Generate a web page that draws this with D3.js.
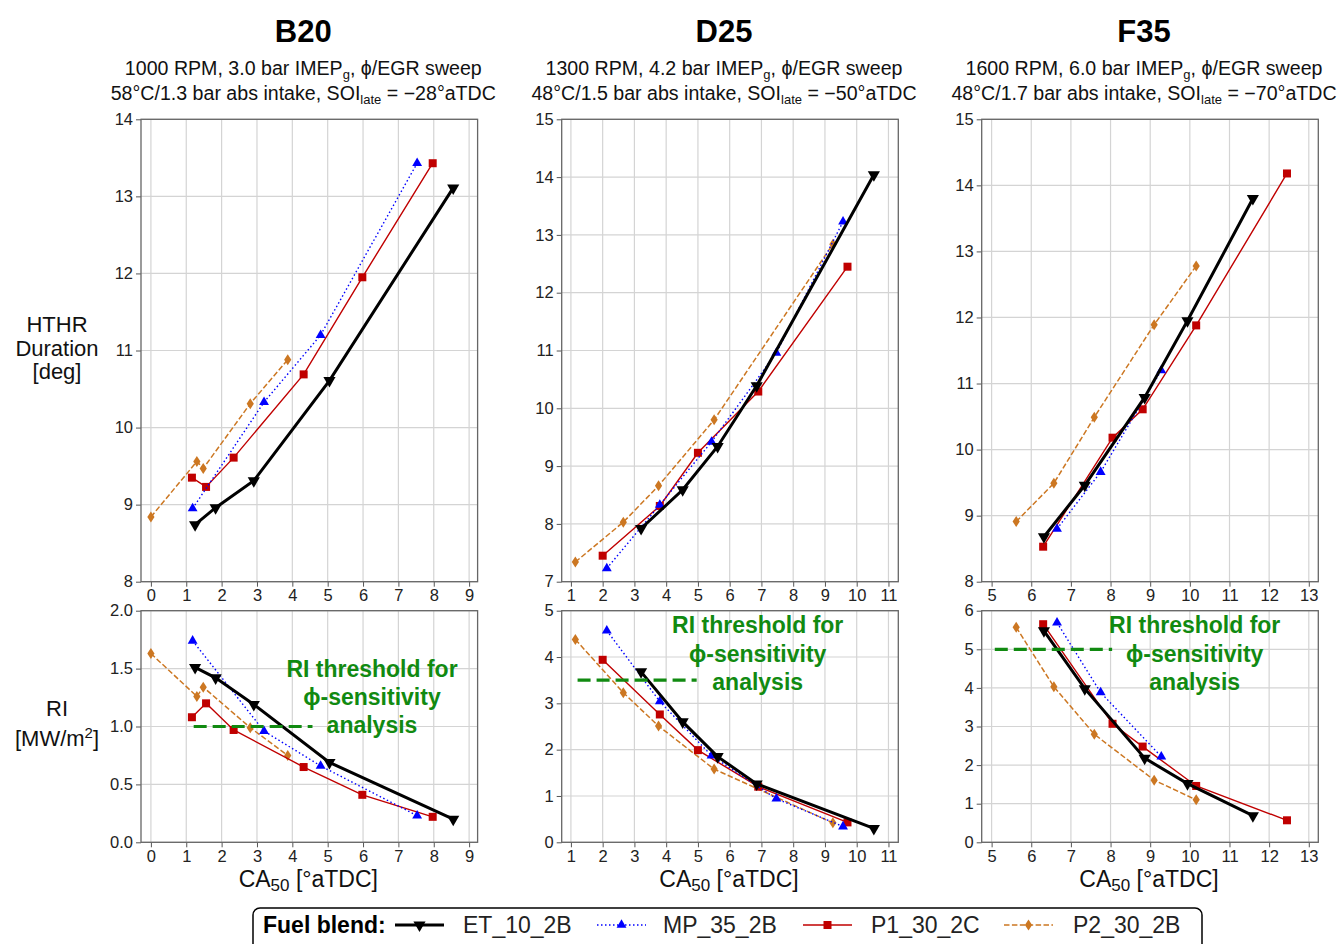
<!DOCTYPE html>
<html>
<head>
<meta charset="utf-8">
<script src="https://cdn.jsdelivr.net/npm/d3@7"></script>
<style>
  body { margin: 0; background: #fff; }
  text { font-family: "Liberation Sans", Arial, sans-serif; }
</style>
</head>
<body>
<svg id="chart" width="1344" height="944"></svg>
<script>
// ---- data ----
const fuels = ['ET_10_2B', 'MP_35_2B', 'P1_30_2C', 'P2_30_2B'];
const cases = ['B20', 'D25', 'F35'];
const subLine1 = [
  ['1000 RPM, 3.0 bar IMEP', 'g', ', ϕ/EGR sweep'],
  ['1300 RPM, 4.2 bar IMEP', 'g', ', ϕ/EGR sweep'],
  ['1600 RPM, 6.0 bar IMEP', 'g', ', ϕ/EGR sweep']
];
const subLine2 = [
  ['58°C/1.3 bar abs intake, SOI', 'late', ' = −28°aTDC'],
  ['48°C/1.5 bar abs intake, SOI', 'late', ' = −50°aTDC'],
  ['48°C/1.7 bar abs intake, SOI', 'late', ' = −70°aTDC']
];

// CA50 [°aTDC], one array per fuel (ET, MP, P1, P2)
const b20CA50 = [
  [1.25, 1.83, 2.91, 5.05, 8.55],
  [1.18, 3.20, 4.80, 7.53],
  [1.16, 1.56, 2.34, 4.32, 5.98, 7.97],
  [0.0, 1.30, 1.48, 2.81, 3.87]
];
const b20HTHR = [
  [8.74, 8.96, 9.31, 10.61, 13.11],
  [8.95, 10.33, 11.20, 13.43],
  [9.35, 9.23, 9.61, 10.69, 11.95, 13.43],
  [8.84, 9.56, 9.47, 10.31, 10.88]
];
const b20RI = [
  [1.51, 1.42, 1.19, 0.69, 0.20],
  [1.74, 0.96, 0.66, 0.23],
  [1.08, 1.20, 0.97, 0.65, 0.41, 0.22],
  [1.63, 1.26, 1.34, 0.99, 0.75]
];

const d25CA50 = [
  [3.21, 4.52, 5.62, 6.85, 10.54],
  [2.13, 3.80, 5.43, 7.47, 9.57],
  [2.00, 3.80, 5.00, 6.90, 9.71],
  [1.14, 2.65, 3.76, 5.51, 9.25]
];
const d25HTHR = [
  [7.92, 8.59, 9.34, 10.39, 14.04],
  [7.23, 8.33, 9.42, 10.96, 13.23],
  [7.45, 8.31, 9.23, 10.29, 12.45],
  [7.34, 8.03, 8.66, 9.80, 12.84]
];
const d25RI = [
  [3.68, 2.60, 1.85, 1.26, 0.30],
  [4.57, 3.04, 1.87, 0.94, 0.34],
  [3.94, 2.76, 1.99, 1.20, 0.43],
  [4.38, 3.23, 2.51, 1.58, 0.42]
];

const f35CA50 = [
  [6.32, 7.35, 8.86, 9.94, 11.59],
  [6.65, 7.75, 9.28],
  [6.30, 8.05, 8.81, 10.16, 12.45],
  [5.62, 6.57, 7.59, 9.10, 10.16]
];
const f35HTHR = [
  [8.68, 9.46, 10.79, 11.95, 13.80],
  [8.80, 9.66, 11.20],
  [8.53, 10.18, 10.61, 11.88, 14.18],
  [8.91, 9.49, 10.49, 11.89, 12.78]
];
const f35RI = [
  [5.48, 3.98, 2.18, 1.52, 0.69],
  [5.69, 3.88, 2.22],
  [5.65, 3.07, 2.48, 1.46, 0.57],
  [5.57, 4.03, 2.80, 1.61, 1.10]
];

// RI threshold line: level and CA50 extent of the dashed segment
const riThreshold = [1.0, 3.5, 5.0];
const thresholdFrom = [1.21, 1.21, 5.08];
const thresholdTo = [4.57, 4.96, 8.04];

// axis ticks
const xTicks = [d3.range(0, 10), d3.range(1, 12), d3.range(5, 14)];
const hthrTicks = [d3.range(8, 15), d3.range(7, 16), d3.range(8, 16)];
const riTicks = [[0, 0.5, 1.0, 1.5, 2.0], d3.range(0, 6), d3.range(0, 7)];

// ---- layout ----
const svg = d3.select('#chart');
const colLeft = [141, 561.7, 981.7];
const colW = 336.6;
const topY = 119.3, topH = 462.4;
const botY = 610.7, botH = 231.6;
const xDomains = [[-0.28, 9.24], [0.71, 11.31], [4.75, 13.24]];
const hthrDomains = [[8, 14], [7, 15], [8, 15]];
const riDomains = [[0, 2], [0, 5], [0, 6]];
const textShift = [231, 196, 213];
const textBase = [[677, 705, 733], [633, 662, 690], [633, 662, 690]];

const colors = ['#000000', '#0000ff', '#c00000', '#cc7722'];
const widths = [3, 1.4, 1.4, 1.5];
const dashes = [null, '1.5,2.5', null, '5.5,2.4'];
const green = '#118a11';

const caData = [b20CA50, d25CA50, f35CA50];
const hthrData = [b20HTHR, d25HTHR, f35HTHR];
const riData = [b20RI, d25RI, f35RI];

function marker(sel, i) {
  const c = colors[i];
  if (i === 0) {
    sel.append('path').attr('d', d3.symbol(d3.symbolTriangle, 64)())
      .attr('transform', 'rotate(180)').attr('fill', c);
  } else if (i === 1) {
    sel.append('path').attr('d', d3.symbol(d3.symbolTriangle, 42)()).attr('fill', c);
  } else if (i === 2) {
    sel.append('rect').attr('x', -4).attr('y', -4).attr('width', 8).attr('height', 8).attr('fill', c);
  } else {
    sel.append('path').attr('d', 'M0,-5.5L3.6,0L0,5.5L-3.6,0Z').attr('fill', c);
  }
}

function panel(k, y0, h, yDomain, yTicks, ys, yFmt) {
  const g = svg.append('g').attr('transform', `translate(${colLeft[k]},${y0})`);
  const x = d3.scaleLinear().domain(xDomains[k]).range([0, colW]);
  const y = d3.scaleLinear().domain(yDomain).range([h, 0]);

  // grid
  g.append('g').selectAll('line').data(xTicks[k]).join('line')
    .attr('x1', d => x(d)).attr('x2', d => x(d)).attr('y1', 0).attr('y2', h)
    .attr('stroke', '#d4d4d4').attr('stroke-width', 1.2);
  g.append('g').selectAll('line').data(yTicks).join('line')
    .attr('y1', d => y(d)).attr('y2', d => y(d)).attr('x1', 0).attr('x2', colW)
    .attr('stroke', '#d4d4d4').attr('stroke-width', 1.2);

  const xa = g.append('g').attr('transform', `translate(0,${h})`)
    .call(d3.axisBottom(x).tickValues(xTicks[k]).tickFormat(d3.format('d')).tickSize(5).tickPadding(3));
  const ya = g.append('g')
    .call(d3.axisLeft(y).tickValues(yTicks).tickFormat(yFmt).tickSize(5).tickPadding(3));
  [xa, ya].forEach(a => {
    a.select('.domain').remove();
    a.selectAll('line').attr('stroke', '#555');
    a.selectAll('text').attr('font-size', 16.5).attr('fill', '#222')
      .attr('font-family', '"Liberation Sans", Arial, sans-serif');
  });

  g.append('rect').attr('width', colW).attr('height', h)
    .attr('fill', 'none').attr('stroke', '#666').attr('stroke-width', 1.3);

  const line = d3.line().x(d => x(d[0])).y(d => y(d[1]));
  [3, 2, 1, 0].forEach(i => {
    const pts = caData[k][i].map((c, j) => [c, ys[i][j]]);
    g.append('path').datum(pts).attr('d', line)
      .attr('fill', 'none').attr('stroke', colors[i]).attr('stroke-width', widths[i])
      .attr('stroke-dasharray', dashes[i]);
    g.append('g').selectAll('g').data(pts).join('g')
      .attr('transform', d => `translate(${x(d[0])},${y(d[1])})`)
      .each(function () { marker(d3.select(this), i); });
  });
  return { g, x, y };
}

cases.forEach((name, k) => {
  const cx = colLeft[k] + colW / 2 - 6;
  svg.append('text').attr('x', cx).attr('y', 42).attr('text-anchor', 'middle')
    .attr('font-size', 31).attr('font-weight', 'bold').attr('fill', '#000').text(name);
  [subLine1[k], subLine2[k]].forEach((parts, r) => {
    const t = svg.append('text').attr('x', cx).attr('y', 75 + r * 25)
      .attr('text-anchor', 'middle').attr('font-size', 19.6).attr('fill', '#111');
    t.append('tspan').text(parts[0]);
    t.append('tspan').attr('dy', 4).attr('font-size', 13).text(parts[1]);
    t.append('tspan').attr('dy', -4).text(parts[2]);
  });

  panel(k, topY, topH, hthrDomains[k], hthrTicks[k], hthrData[k], d3.format('d'));
  const p = panel(k, botY, botH, riDomains[k], riTicks[k], riData[k],
    k === 0 ? d3.format('.1f') : d3.format('d'));

  // threshold
  p.g.append('line')
    .attr('x1', p.x(thresholdFrom[k])).attr('x2', p.x(thresholdTo[k]))
    .attr('y1', p.y(riThreshold[k])).attr('y2', p.y(riThreshold[k]))
    .attr('stroke', green).attr('stroke-width', 3.2).attr('stroke-dasharray', '13,6');
  ['RI threshold for', 'ϕ-sensitivity', 'analysis'].forEach((s, r) => {
    svg.append('text').attr('x', colLeft[k] + textShift[k]).attr('y', textBase[k][r])
      .attr('text-anchor', 'middle').attr('font-size', 23).attr('font-weight', 'bold')
      .attr('fill', green).text(s);
  });

  // x label
  const xl = svg.append('text').attr('x', colLeft[k] + colW / 2 - 1).attr('y', 887)
    .attr('text-anchor', 'middle').attr('font-size', 23).attr('fill', '#111');
  xl.append('tspan').text('CA');
  xl.append('tspan').attr('dy', 4).attr('font-size', 17).text('50');
  xl.append('tspan').attr('dy', -4).text(' [°aTDC]');
});

// y labels
['HTHR', 'Duration', '[deg]'].forEach((s, r) => {
  svg.append('text').attr('x', 57).attr('y', 332 + r * 23.5).attr('text-anchor', 'middle')
    .attr('font-size', 22).attr('fill', '#111').text(s);
});
svg.append('text').attr('x', 57).attr('y', 716).attr('text-anchor', 'middle')
  .attr('font-size', 22).attr('fill', '#111').text('RI');
const ml = svg.append('text').attr('x', 57).attr('y', 746).attr('text-anchor', 'middle')
  .attr('font-size', 22).attr('fill', '#111');
ml.append('tspan').text('[MW/m');
ml.append('tspan').attr('dy', -8).attr('font-size', 15).text('2');
ml.append('tspan').attr('dy', 8).text(']');

// legend
const lg = svg.append('g');
lg.append('rect').attr('x', 253).attr('y', 908).attr('width', 949).attr('height', 60)
  .attr('rx', 7).attr('fill', '#fff').attr('stroke', '#000').attr('stroke-width', 1.5);
lg.append('text').attr('x', 263).attr('y', 933).attr('font-size', 23).attr('font-weight', 'bold')
  .attr('fill', '#000').text('Fuel blend:');
const legLine = [395, 597, 803, 1004];
const legText = [463, 663, 871, 1073];
fuels.forEach((f, i) => {
  lg.append('line').attr('x1', legLine[i]).attr('x2', legLine[i] + 49).attr('y1', 925).attr('y2', 925)
    .attr('stroke', colors[i]).attr('stroke-width', widths[i]).attr('stroke-dasharray', dashes[i]);
  const m = lg.append('g').attr('transform', `translate(${legLine[i] + 24.5},925)`);
  marker(m, i);
  lg.append('text').attr('x', legText[i]).attr('y', 933).attr('font-size', 23)
    .attr('fill', '#222').text(f);
});
</script>
</body>
</html>
